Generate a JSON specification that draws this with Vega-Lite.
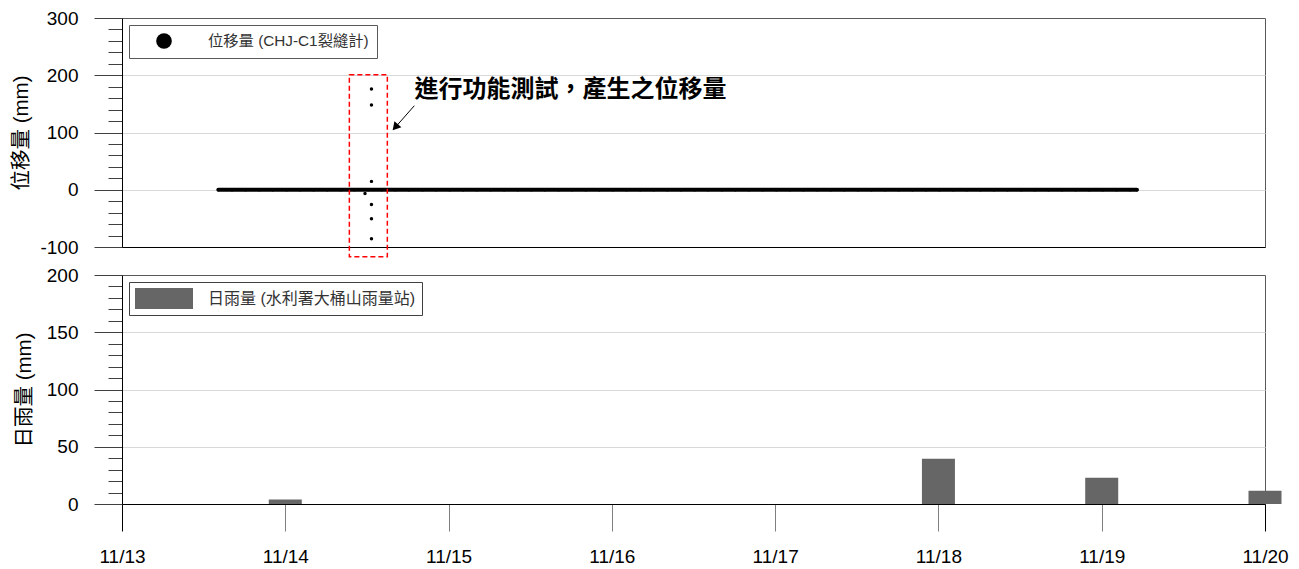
{
  "$schema": "https://vega.github.io/schema/vega-lite/v6.json",
  "background": "white",
  "padding": {"left": 11, "top": 8, "right": 5, "bottom": 0},
  "spacing": 28,
  "bounds": "flush",
  "config": {
    "font": "Liberation Sans, Noto Sans CJK TC, sans-serif",
    "view": {"stroke": "#595959", "strokeWidth": 1},
    "axis": {
      "labelFont": "Liberation Sans, Noto Sans CJK TC, sans-serif",
      "titleFont": "Liberation Sans, Noto Sans CJK TC, sans-serif",
      "labelColor": "#000",
      "titleColor": "#000",
      "titleFontWeight": "normal",
      "labelFontSize": 19,
      "titleFontSize": 20.5
    },
    "legend": {
      "labelFont": "Liberation Sans, Noto Sans CJK TC, sans-serif",
      "labelFontSize": 16,
      "labelColor": "#333",
      "fillColor": "white",
      "labelLimit": 400
    }
  },
  "resolve": {"scale": {"color": "independent"}, "legend": {"color": "independent"}},
  "vconcat": [
    {
      "width": 1143,
      "height": 229,
      "data": {"values": [
        {"time": "2023-11-13T14:10", "disp": 0, "grp": "b"},
        {"time": "2023-11-13T16:10", "disp": 0, "grp": "b"},
        {"time": "2023-11-13T18:10", "disp": 0, "grp": "b"},
        {"time": "2023-11-13T20:10", "disp": 0, "grp": "b"},
        {"time": "2023-11-13T22:10", "disp": 0, "grp": "b"},
        {"time": "2023-11-14T00:10", "disp": 0, "grp": "b"},
        {"time": "2023-11-14T02:10", "disp": 0, "grp": "b"},
        {"time": "2023-11-14T04:10", "disp": 0, "grp": "b"},
        {"time": "2023-11-14T06:10", "disp": 0, "grp": "b"},
        {"time": "2023-11-14T08:10", "disp": 0, "grp": "b"},
        {"time": "2023-11-14T10:10", "disp": 0, "grp": "b"},
        {"time": "2023-11-14T12:10", "disp": 0, "grp": "b"},
        {"time": "2023-11-14T14:10", "disp": 0, "grp": "b"},
        {"time": "2023-11-14T16:10", "disp": 0, "grp": "b"},
        {"time": "2023-11-14T18:10", "disp": 0, "grp": "b"},
        {"time": "2023-11-14T20:10", "disp": 0, "grp": "b"},
        {"time": "2023-11-14T22:10", "disp": 0, "grp": "b"},
        {"time": "2023-11-15T00:10", "disp": 0, "grp": "b"},
        {"time": "2023-11-15T02:10", "disp": 0, "grp": "b"},
        {"time": "2023-11-15T04:10", "disp": 0, "grp": "b"},
        {"time": "2023-11-15T06:10", "disp": 0, "grp": "b"},
        {"time": "2023-11-15T08:10", "disp": 0, "grp": "b"},
        {"time": "2023-11-15T10:10", "disp": 0, "grp": "b"},
        {"time": "2023-11-15T12:10", "disp": 0, "grp": "b"},
        {"time": "2023-11-15T14:10", "disp": 0, "grp": "b"},
        {"time": "2023-11-15T16:10", "disp": 0, "grp": "b"},
        {"time": "2023-11-15T18:10", "disp": 0, "grp": "b"},
        {"time": "2023-11-15T20:10", "disp": 0, "grp": "b"},
        {"time": "2023-11-15T22:10", "disp": 0, "grp": "b"},
        {"time": "2023-11-16T00:10", "disp": 0, "grp": "b"},
        {"time": "2023-11-16T02:10", "disp": 0, "grp": "b"},
        {"time": "2023-11-16T04:10", "disp": 0, "grp": "b"},
        {"time": "2023-11-16T06:10", "disp": 0, "grp": "b"},
        {"time": "2023-11-16T08:10", "disp": 0, "grp": "b"},
        {"time": "2023-11-16T10:10", "disp": 0, "grp": "b"},
        {"time": "2023-11-16T12:10", "disp": 0, "grp": "b"},
        {"time": "2023-11-16T14:10", "disp": 0, "grp": "b"},
        {"time": "2023-11-16T16:10", "disp": 0, "grp": "b"},
        {"time": "2023-11-16T18:10", "disp": 0, "grp": "b"},
        {"time": "2023-11-16T20:10", "disp": 0, "grp": "b"},
        {"time": "2023-11-16T22:10", "disp": 0, "grp": "b"},
        {"time": "2023-11-17T00:10", "disp": 0, "grp": "b"},
        {"time": "2023-11-17T02:10", "disp": 0, "grp": "b"},
        {"time": "2023-11-17T04:10", "disp": 0, "grp": "b"},
        {"time": "2023-11-17T06:10", "disp": 0, "grp": "b"},
        {"time": "2023-11-17T08:10", "disp": 0, "grp": "b"},
        {"time": "2023-11-17T10:10", "disp": 0, "grp": "b"},
        {"time": "2023-11-17T12:10", "disp": 0, "grp": "b"},
        {"time": "2023-11-17T14:10", "disp": 0, "grp": "b"},
        {"time": "2023-11-17T16:10", "disp": 0, "grp": "b"},
        {"time": "2023-11-17T18:10", "disp": 0, "grp": "b"},
        {"time": "2023-11-17T20:10", "disp": 0, "grp": "b"},
        {"time": "2023-11-17T22:10", "disp": 0, "grp": "b"},
        {"time": "2023-11-18T00:10", "disp": 0, "grp": "b"},
        {"time": "2023-11-18T02:10", "disp": 0, "grp": "b"},
        {"time": "2023-11-18T04:10", "disp": 0, "grp": "b"},
        {"time": "2023-11-18T06:10", "disp": 0, "grp": "b"},
        {"time": "2023-11-18T08:10", "disp": 0, "grp": "b"},
        {"time": "2023-11-18T10:10", "disp": 0, "grp": "b"},
        {"time": "2023-11-18T12:10", "disp": 0, "grp": "b"},
        {"time": "2023-11-18T14:10", "disp": 0, "grp": "b"},
        {"time": "2023-11-18T16:10", "disp": 0, "grp": "b"},
        {"time": "2023-11-18T18:10", "disp": 0, "grp": "b"},
        {"time": "2023-11-18T20:10", "disp": 0, "grp": "b"},
        {"time": "2023-11-18T22:10", "disp": 0, "grp": "b"},
        {"time": "2023-11-19T00:10", "disp": 0, "grp": "b"},
        {"time": "2023-11-19T02:10", "disp": 0, "grp": "b"},
        {"time": "2023-11-19T04:10", "disp": 0, "grp": "b"},
        {"time": "2023-11-19T05:10", "disp": 0, "grp": "b"},
        {"time": "2023-11-14T12:40", "disp": 176, "grp": "t"},
        {"time": "2023-11-14T12:40", "disp": 148, "grp": "t"},
        {"time": "2023-11-14T12:40", "disp": 14.6, "grp": "t"},
        {"time": "2023-11-14T11:43", "disp": -6.4, "grp": "t"},
        {"time": "2023-11-14T12:40", "disp": -25.6, "grp": "t"},
        {"time": "2023-11-14T12:40", "disp": -50.6, "grp": "t"},
        {"time": "2023-11-14T12:40", "disp": -85.5, "grp": "t"}
      ]},
      "layer": [
        {
          "transform": [{"filter": "datum.grp === 'b'"}],
          "mark": {"type": "line", "color": "#000", "strokeWidth": 4, "strokeCap": "round"},
          "encoding": {
            "x": {
              "field": "time", "type": "temporal",
              "scale": {"domain": [{"year": 2023, "month": 11, "date": 13}, {"year": 2023, "month": 11, "date": 20}], "padding": 0},
              "axis": {"labels": false, "ticks": false, "grid": false, "title": null, "domainColor": "#000"}
            },
            "y": {
              "field": "disp", "type": "quantitative",
              "scale": {"domain": [-100, 300], "nice": false},
              "axis": {
                "values": [-100, -80, -60, -40, -20, 0, 20, 40, 60, 80, 100, 120, 140, 160, 180, 200, 220, 240, 260, 280, 300],
                "tickCount": 100,
                "tickSize": {"condition": {"test": "datum.value % 100 !== 0", "value": 14}, "value": 28},
                "tickColor": "#404040",
                "labelExpr": "datum.value % 100 === 0 ? '' + datum.value : ''",
                "labelPadding": 16,
                "labelFontSize": 19,
                "grid": true,
                "gridColor": {"condition": {"test": "datum.value === 0 || datum.value === 100 || datum.value === 200", "value": "#d9d9d9"}, "value": "transparent"},
                "domainColor": "#000",
                "title": "位移量 (mm)",
                "titleFontSize": 20.5,
                "titlePadding": 8
              }
            }
          }
        },
        {
          "mark": {"type": "point", "filled": true, "size": 12, "opacity": 1},
          "encoding": {
            "x": {"field": "time", "type": "temporal"},
            "y": {"field": "disp", "type": "quantitative"},
            "color": {
              "datum": "位移量 (CHJ-C1裂縫計)", "type": "nominal",
              "scale": {"range": ["#000000"]},
              "legend": {
                "orient": "top-left", "offset": 7, "title": null,
                "symbolType": "circle", "symbolSize": 245, "symbolOpacity": 1, "symbolStrokeWidth": 0,
                "strokeColor": "#595959", "padding": 8, "labelOffset": 36, "symbolOffset": 19,
                "labelFontSize": 15.3
              }
            }
          }
        },
        {
          "data": {"values": [{"note": "box"}]},
          "mark": {"type": "rect", "fill": "transparent", "stroke": "#ff0000", "strokeWidth": 1.5, "strokeDash": [5, 3]},
          "encoding": {
            "x": {"datum": {"year": 2023, "month": 11, "date": 14, "hours": 9, "minutes": 25}, "type": "temporal"},
            "x2": {"datum": {"year": 2023, "month": 11, "date": 14, "hours": 15, "minutes": 0}},
            "y": {"datum": 201, "type": "quantitative"},
            "y2": {"datum": -117}
          }
        },
        {
          "data": {"values": [{"note": "arrow"}]},
          "mark": {"type": "rule", "color": "#000", "strokeWidth": 1},
          "encoding": {
            "x": {"datum": {"year": 2023, "month": 11, "date": 14, "hours": 18, "minutes": 58}, "type": "temporal"},
            "y": {"datum": 146.8, "type": "quantitative"},
            "x2": {"datum": {"year": 2023, "month": 11, "date": 14, "hours": 16, "minutes": 10}},
            "y2": {"datum": 109}
          }
        },
        {
          "data": {"values": [{"note": "arrowhead"}]},
          "mark": {"type": "point", "shape": "triangle-up", "angle": 221, "filled": true, "size": 85, "opacity": 1, "color": "#000"},
          "encoding": {
            "x": {"datum": {"year": 2023, "month": 11, "date": 14, "hours": 16, "minutes": 10}, "type": "temporal"},
            "y": {"datum": 109, "type": "quantitative"}
          }
        },
        {
          "data": {"values": [{"label": "進行功能測試，產生之位移量"}]},
          "mark": {"type": "text", "font": "Noto Sans CJK TC", "fontSize": 24, "fontWeight": "bold", "align": "left", "baseline": "middle", "color": "#000"},
          "encoding": {
            "x": {"datum": {"year": 2023, "month": 11, "date": 14, "hours": 19, "minutes": 0}, "type": "temporal"},
            "y": {"datum": 173.5, "type": "quantitative"},
            "text": {"field": "label"}
          }
        }
      ]
    },
    {
      "width": 1143,
      "height": 229,
      "data": {"values": [
        {"date": "2023-11-13T00:00", "rain": 0},
        {"date": "2023-11-14T00:00", "rain": 4},
        {"date": "2023-11-15T00:00", "rain": 0},
        {"date": "2023-11-16T00:00", "rain": 0},
        {"date": "2023-11-17T00:00", "rain": 0},
        {"date": "2023-11-18T00:00", "rain": 39.5},
        {"date": "2023-11-19T00:00", "rain": 23},
        {"date": "2023-11-20T00:00", "rain": 11.6}
      ]},
      "mark": {"type": "bar", "width": 33},
      "encoding": {
        "x": {
          "field": "date", "type": "temporal",
          "scale": {"domain": [{"year": 2023, "month": 11, "date": 13}, {"year": 2023, "month": 11, "date": 20}], "padding": 0},
          "axis": {
            "values": [
              {"year": 2023, "month": 11, "date": 13}, {"year": 2023, "month": 11, "date": 14},
              {"year": 2023, "month": 11, "date": 15}, {"year": 2023, "month": 11, "date": 16},
              {"year": 2023, "month": 11, "date": 17}, {"year": 2023, "month": 11, "date": 18},
              {"year": 2023, "month": 11, "date": 19}, {"year": 2023, "month": 11, "date": 20}
            ],
            "tickCount": 100,
            "format": "%m/%d",
            "tickSize": 27,
            "tickColor": {"condition": {"test": "datum.index === 0 || datum.index === 1", "value": "#000"}, "value": "#7f7f7f"},
            "domainColor": "#000",
            "labelPadding": 16,
            "labelFontSize": 19,
            "labelFlush": false,
            "labelOverlap": false,
            "grid": false,
            "title": null
          }
        },
        "y": {
          "field": "rain", "type": "quantitative",
          "scale": {"domain": [0, 200], "nice": false},
          "axis": {
            "values": [0, 10, 20, 30, 40, 50, 60, 70, 80, 90, 100, 110, 120, 130, 140, 150, 160, 170, 180, 190, 200],
            "tickCount": 100,
            "tickSize": {"condition": {"test": "datum.value % 50 !== 0", "value": 14}, "value": 28},
            "tickColor": "#404040",
            "labelExpr": "datum.value % 50 === 0 ? '' + datum.value : ''",
            "labelPadding": 16,
            "labelFontSize": 19,
            "grid": true,
            "gridColor": {"condition": {"test": "datum.value === 50 || datum.value === 100 || datum.value === 150", "value": "#d9d9d9"}, "value": "transparent"},
            "domainColor": "#000",
            "title": "日雨量 (mm)",
            "titleFontSize": 20.5,
            "titlePadding": 12
          }
        },
        "color": {
          "datum": "日雨量 (水利署大桶山雨量站)", "type": "nominal",
          "scale": {"range": ["#666666"]},
          "legend": {
            "orient": "top-left", "offset": 7, "title": null,
            "symbolType": "M-1,-0.362H1V0.362H-1Z", "symbolSize": 3364, "clipHeight": 21,
            "symbolStrokeWidth": 0, "symbolOpacity": 1,
            "strokeColor": "#404040", "padding": 6, "labelOffset": 15, "symbolOffset": 0
          }
        }
      }
    }
  ]
}
